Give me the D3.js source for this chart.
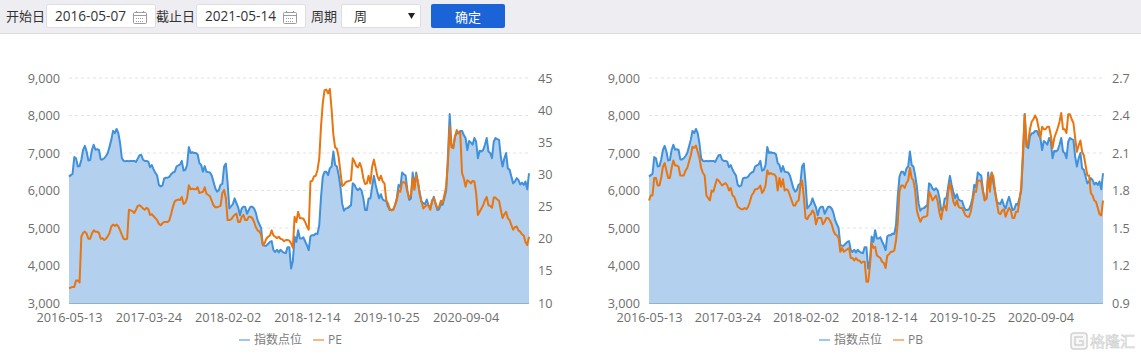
<!DOCTYPE html>
<html>
<head>
<meta charset="utf-8">
<script src="https://cdn.jsdelivr.net/npm/d3@7"></script>
<style>
  html, body { margin: 0; padding: 0; background: #fff; overflow: hidden; }
  svg { display: block; }
  text { font-family: "Open Sans", "Noto Sans CJK SC", sans-serif; }
</style>
</head>
<body>
<div id="vizcontainer"></div>
<script>
const startDate = '2016-05-13';
const weekCount = 262;
const dateTicks = ['2016-05-13', '2017-03-24', '2018-02-02', '2018-12-14', '2019-10-25', '2020-09-04'];
const indexTicks = [3000, 4000, 5000, 6000, 7000, 8000, 9000];
const peTicks = [10, 15, 20, 25, 30, 35, 40, 45];
const pbTicks = [0.9, 1.2, 1.5, 1.8, 2.1, 2.4, 2.7];

const indexValues = [
  6370,6410,6440,6890,6860,6640,6650,6820,7080,7190,
  7040,6800,6810,7080,7220,7090,7100,7080,6830,6830,
  6860,6920,7000,7170,7350,7590,7530,7640,7530,7260,
  6860,6790,6780,6790,6780,6790,6790,6790,6760,6850,
  6940,6950,6820,6790,6790,6770,6620,6680,6560,6470,
  6400,6150,6110,6130,6320,6340,6340,6370,6440,6480,
  6500,6640,6670,6690,6790,6530,6550,6680,7160,7000,
  7020,7000,7000,6960,6730,6680,6500,6650,6500,6490,
  6480,6400,6230,6060,5970,6010,6150,6180,6640,6720,
  6200,5520,5580,5640,5790,5660,5550,5340,5520,5570,
  5560,5380,5480,5570,5570,5520,5410,5210,5100,5000,
  4540,4530,4530,4580,4630,4650,4410,4360,4420,4350,
  4420,4370,4340,4330,4490,4490,3920,4120,4770,4630,
  4940,4720,4720,4750,4640,4540,4410,4780,4810,4810,
  4850,4840,5080,5830,6370,6500,6500,6410,6590,6640,
  7040,6680,6640,6410,6100,5650,5460,5520,5530,5570,
  5610,6190,6150,6050,6010,6060,6000,5790,5480,5480,
  5790,5790,6100,6390,6150,5950,5790,5900,5760,5730,
  5720,5570,5480,5480,5500,5620,5800,6150,6090,6480,
  6430,6400,6010,5750,5780,6480,6100,6480,6200,5950,
  5700,5660,5640,5760,5600,5520,5700,5830,5650,5480,
  5500,5640,5620,5800,6000,6900,8040,7220,7130,7440,
  7530,7530,7590,7590,7480,7400,7080,7320,7280,7220,
  7400,7300,6860,7060,7040,7080,7220,7400,7040,7000,
  6860,7300,7400,7370,7350,6900,6640,6860,7000,6590,
  6550,6370,6190,6240,6330,6280,6160,6210,6150,6240,
  6030,6460
];

const peValues = [
  12.3,12.4,12.5,12.5,13.5,13.5,13.2,20.3,20.9,21.1,
  20.8,20.0,20.0,20.8,21.3,21.1,21.1,20.9,20.0,20.1,
  19.8,20.0,20.4,20.9,21.9,22.2,22.0,22.2,21.9,21.3,
  20.6,20.0,19.9,20.0,24.5,24.4,24.3,24.0,24.5,25.1,
  25.2,25.0,24.7,24.5,24.8,24.6,23.7,23.8,23.5,23.2,
  22.9,22.3,22.1,22.4,22.6,22.6,22.6,22.9,23.9,25.0,
  25.8,26.0,26.1,26.0,26.5,25.4,25.6,26.3,28.3,27.7,
  27.8,27.7,27.7,28.0,27.1,27.2,27.3,28.0,27.0,26.8,
  26.6,25.9,25.2,24.9,24.9,25.0,25.1,27.1,27.6,26.3,
  22.9,22.9,23.0,23.4,23.7,23.9,22.6,22.6,23.4,23.7,
  22.9,22.9,23.4,23.4,23.2,22.6,21.8,21.3,21.1,20.6,
  19.0,19.3,20.0,20.3,20.5,21.3,20.5,20.3,20.1,20.3,
  20.0,19.9,19.6,19.8,19.8,19.7,19.3,18.6,23.4,22.6,
  24.2,23.2,23.2,23.1,22.6,21.9,21.4,28.9,29.0,29.7,
  29.8,30.7,32.5,37.5,41.1,43.1,43.2,42.6,43.3,40.1,
  36.2,34.2,34.0,32.7,30.4,28.2,28.4,28.8,28.9,29.0,
  29.1,32.5,32.0,31.3,31.1,31.8,31.0,29.4,28.5,28.6,
  29.8,28.6,31.2,32.3,31.0,29.7,29.1,29.8,28.9,28.6,
  26.0,25.5,24.6,24.4,24.5,25.2,26.0,27.5,27.3,28.8,
  28.8,28.6,27.3,26.3,26.8,29.4,27.6,29.9,28.9,26.8,
  25.8,24.7,25.0,25.2,25.2,24.5,26.0,26.3,25.5,24.7,
  25.0,25.9,25.6,26.8,28.1,31.7,37.5,34.2,34.1,35.9,
  36.9,36.4,36.5,30.2,29.4,28.1,29.1,28.9,28.6,29.0,
  28.9,27.1,23.7,24.2,24.7,25.2,26.0,26.5,25.2,25.1,
  24.8,26.4,26.4,26.1,25.9,24.5,23.2,23.8,24.2,23.2,
  22.9,22.1,21.4,21.8,21.9,21.3,21.1,20.7,20.5,19.5,
  19.0,20.3
];

const pbValues = [
  1.72,1.76,1.76,1.90,1.90,1.84,1.84,1.90,1.99,2.02,
  1.96,1.90,1.90,1.98,2.04,2.00,2.00,1.99,1.92,1.92,
  1.92,1.96,1.98,2.03,2.08,2.15,2.14,2.16,2.11,2.06,
  1.98,1.94,1.92,1.76,1.74,1.72,1.80,1.79,1.84,1.89,
  1.88,1.86,1.84,1.85,1.86,1.84,1.80,1.82,1.76,1.75,
  1.71,1.67,1.66,1.65,1.65,1.66,1.65,1.67,1.71,1.76,
  1.78,1.81,1.81,1.82,1.84,1.78,1.80,1.84,1.96,1.93,
  1.94,1.93,1.93,1.91,1.80,1.90,1.83,1.89,1.80,1.81,
  1.80,1.76,1.72,1.68,1.68,1.71,1.72,1.83,1.88,1.75,
  1.58,1.57,1.60,1.61,1.64,1.62,1.53,1.58,1.58,1.58,
  1.53,1.55,1.58,1.58,1.56,1.53,1.48,1.45,1.44,1.42,
  1.31,1.34,1.31,1.32,1.33,1.34,1.26,1.26,1.24,1.26,
  1.24,1.24,1.22,1.23,1.23,1.07,1.07,1.19,1.38,1.34,
  1.35,1.28,1.27,1.26,1.23,1.22,1.18,1.28,1.29,1.31,
  1.31,1.32,1.40,1.54,1.79,1.84,1.84,1.82,1.86,1.88,
  1.98,1.90,1.88,1.80,1.64,1.59,1.55,1.58,1.59,1.59,
  1.60,1.79,1.76,1.72,1.74,1.76,1.71,1.62,1.57,1.66,
  1.68,1.64,1.79,1.86,1.79,1.71,1.68,1.72,1.67,1.66,
  1.66,1.63,1.60,1.59,1.59,1.63,1.71,1.79,1.79,1.88,
  1.88,1.87,1.79,1.72,1.74,1.91,1.79,1.94,1.91,1.79,
  1.70,1.62,1.61,1.64,1.65,1.59,1.63,1.66,1.64,1.58,
  1.58,1.63,1.63,1.72,1.83,2.12,2.41,2.15,2.19,2.29,
  2.35,2.37,2.40,2.37,2.30,2.22,2.31,2.29,2.29,2.31,
  2.31,2.24,2.14,2.22,2.26,2.30,2.35,2.42,2.29,2.29,
  2.26,2.41,2.41,2.37,2.34,2.22,2.11,2.16,2.20,2.11,
  2.08,2.00,1.92,1.92,1.78,1.76,1.72,1.71,1.66,1.61,
  1.60,1.72
];

const width = 1141, height = 358,
  plotTop = 78, plotBottom = 303,
  blue = '#4090da', orange = '#e8750f', fillBlue = '#b3d1ee',
  textGrey = '#6e6e6e';

const parseDate = d3.timeParse('%Y-%m-%d');
const weeks = d3.range(weekCount).map(i => d3.timeDay.offset(parseDate(startDate), i * 7));

const svg = d3.select('#vizcontainer')
  .append('svg')
  .attr('width', width)
  .attr('height', height);

drawHeader();
drawChart(69, 529, indexValues, peValues, 'PE', peTicks, d => d, 239);
drawChart(649, 1103, indexValues, pbValues, 'PB', pbTicks, d3.format('.1f'), 819);
drawWatermark();

function drawChart(left, right, leftValues, rightValues, name, rightTicks, rightFormat, legendX) {
  const x = d3.scaleTime().domain([weeks[0], weeks[weekCount - 1]]).range([left, right]);
  const yLeft = d3.scaleLinear().domain(d3.extent(indexTicks)).range([plotBottom, plotTop]);
  const yRight = d3.scaleLinear().domain(d3.extent(rightTicks)).range([plotBottom, plotTop]);

  const viz = svg.append('g');

  viz.append('g')
    .selectAll('line')
    .data(indexTicks)
    .join('line')
    .attr('x1', left).attr('x2', right)
    .attr('y1', d => yLeft(d)).attr('y2', d => yLeft(d))
    .attr('stroke', '#e3e3e3')
    .attr('stroke-dasharray', '3,3');

  const area = d3.area()
    .x((d, i) => x(weeks[i]))
    .y0(plotBottom)
    .y1(d => yLeft(d));

  const line = d3.line().x((d, i) => x(weeks[i]));

  viz.append('path').datum(leftValues)
    .attr('d', area)
    .attr('fill', fillBlue);

  viz.append('path').datum(leftValues)
    .attr('d', line.y(d => yLeft(d)))
    .attr('fill', 'none')
    .attr('stroke', blue)
    .attr('stroke-width', 2)
    .attr('stroke-linejoin', 'round');

  viz.append('path').datum(rightValues)
    .attr('d', line.y(d => yRight(d)))
    .attr('fill', 'none')
    .attr('stroke', orange)
    .attr('stroke-width', 2)
    .attr('stroke-linejoin', 'round');

  viz.append('line')
    .attr('x1', left).attr('x2', right)
    .attr('y1', plotBottom + 0.5).attr('y2', plotBottom + 0.5)
    .attr('stroke', '#97b0c9');

  const axisL = viz.append('g')
    .attr('transform', `translate(${left - 6},0)`)
    .call(d3.axisLeft(yLeft).tickValues(indexTicks).tickSize(0).tickFormat(d3.format(',')));

  const axisR = viz.append('g')
    .attr('transform', `translate(${right + 6},0)`)
    .call(d3.axisRight(yRight).tickValues(rightTicks).tickSize(0).tickFormat(rightFormat));

  const axisB = viz.append('g')
    .attr('transform', `translate(0,${plotBottom + 7})`)
    .call(d3.axisBottom(x).tickValues(dateTicks.map(parseDate)).tickSize(0).tickFormat(d3.timeFormat('%Y-%m-%d')));

  [axisL, axisR, axisB].forEach(a => {
    a.select('.domain').remove();
    a.selectAll('text')
      .attr('fill', textGrey)
      .attr('font-size', '12.7px')
      .style('font-family', '"Open Sans", sans-serif');
  });

  // legend
  const legendY = 340;
  const legend = viz.append('g');
  legend.append('line')
    .attr('x1', legendX).attr('x2', legendX + 11)
    .attr('y1', legendY).attr('y2', legendY)
    .attr('stroke', blue).attr('stroke-width', 2).attr('opacity', 0.5);
  legend.append('text')
    .text('指数点位')
    .attr('x', legendX + 15).attr('y', legendY + 4)
    .attr('font-size', '12px').attr('fill', '#7c7c7c');
  legend.append('line')
    .attr('x1', legendX + 74).attr('x2', legendX + 85)
    .attr('y1', legendY).attr('y2', legendY)
    .attr('stroke', orange).attr('stroke-width', 2).attr('opacity', 0.5);
  legend.append('text')
    .text(name)
    .attr('x', legendX + 89).attr('y', legendY + 4)
    .attr('font-size', '12px').attr('fill', '#7c7c7c');
}

function drawHeader() {
  const bar = svg.append('g');
  const dark = '#333';

  bar.append('rect').attr('width', width).attr('height', 33).attr('fill', '#eeeef2');
  bar.append('line').attr('x1', 0).attr('x2', width).attr('y1', 33.5).attr('y2', 33.5).attr('stroke', '#dcdcdc');

  const label = (t, x) => bar.append('text').text(t)
    .attr('x', x).attr('y', 21).attr('font-size', '13px').attr('fill', dark)
    .style('font-family', '"Noto Sans CJK SC", sans-serif');

  const box = (x, w) => bar.append('rect')
    .attr('x', x + 0.5).attr('y', 4.5).attr('width', w).attr('height', 23).attr('rx', 2)
    .attr('fill', '#fff').attr('stroke', '#dedede');

  const dateInput = (t, x) => {
    box(x, 109);
    bar.append('text').text(t)
      .attr('x', x + 9).attr('y', 21).attr('font-size', '13.6px').attr('fill', dark);
    const ic = bar.append('g').attr('transform', `translate(${x + 87},11)`)
      .attr('fill', 'none').attr('stroke', '#9a9aa2');
    ic.append('rect').attr('x', 0.5).attr('y', 1.5).attr('width', 13).attr('height', 11).attr('rx', 1);
    ic.append('line').attr('x1', 0.5).attr('x2', 13.5).attr('y1', 4.5).attr('y2', 4.5);
    ic.append('line').attr('x1', 3).attr('x2', 11).attr('y1', 7.5).attr('y2', 7.5).attr('stroke-dasharray', '1,1');
    ic.append('line').attr('x1', 3).attr('x2', 11).attr('y1', 10.5).attr('y2', 10.5).attr('stroke-dasharray', '1,1');
    ic.append('line').attr('x1', 3.5).attr('x2', 3.5).attr('y1', 0).attr('y2', 2);
    ic.append('line').attr('x1', 10.5).attr('x2', 10.5).attr('y1', 0).attr('y2', 2);
  };

  label('开始日', 6);
  dateInput('2016-05-07', 46);
  label('截止日', 156);
  dateInput('2021-05-14', 196);
  label('周期', 311);

  box(341, 79);
  label('周', 354);
  bar.append('path').attr('d', 'M408,13h7l-3.5,6z').attr('fill', '#222');

  bar.append('rect').attr('x', 431).attr('y', 4).attr('width', 74).attr('height', 24).attr('rx', 2).attr('fill', '#1b64d8');
  bar.append('text').text('确定')
    .attr('x', 468).attr('y', 22).attr('text-anchor', 'middle')
    .attr('font-size', '13px').attr('fill', '#fff')
    .style('font-family', '"Noto Sans CJK SC", sans-serif');
}

function drawWatermark() {
  const mark = svg.append('g');
  mark.append('rect')
    .attr('x', 1071).attr('y', 333).attr('width', 16).attr('height', 16).attr('rx', 3)
    .attr('fill', '#f7f7f7').attr('stroke', '#d2d2d2').attr('stroke-width', 1.5);
  mark.append('path')
    .attr('d', 'M1083,337h-8v8h8v-4h-4')
    .attr('fill', 'none').attr('stroke', '#d2d2d2').attr('stroke-width', 1.5);
  mark.append('text').text('格隆汇')
    .attr('x', 1090).attr('y', 347)
    .attr('font-size', '15px')
    .attr('fill', '#f7f7f7').attr('stroke', '#cfcfcf').attr('stroke-width', 0.6)
    .style('font-family', '"Noto Sans CJK SC", sans-serif');
}
</script>
</body>
</html>
